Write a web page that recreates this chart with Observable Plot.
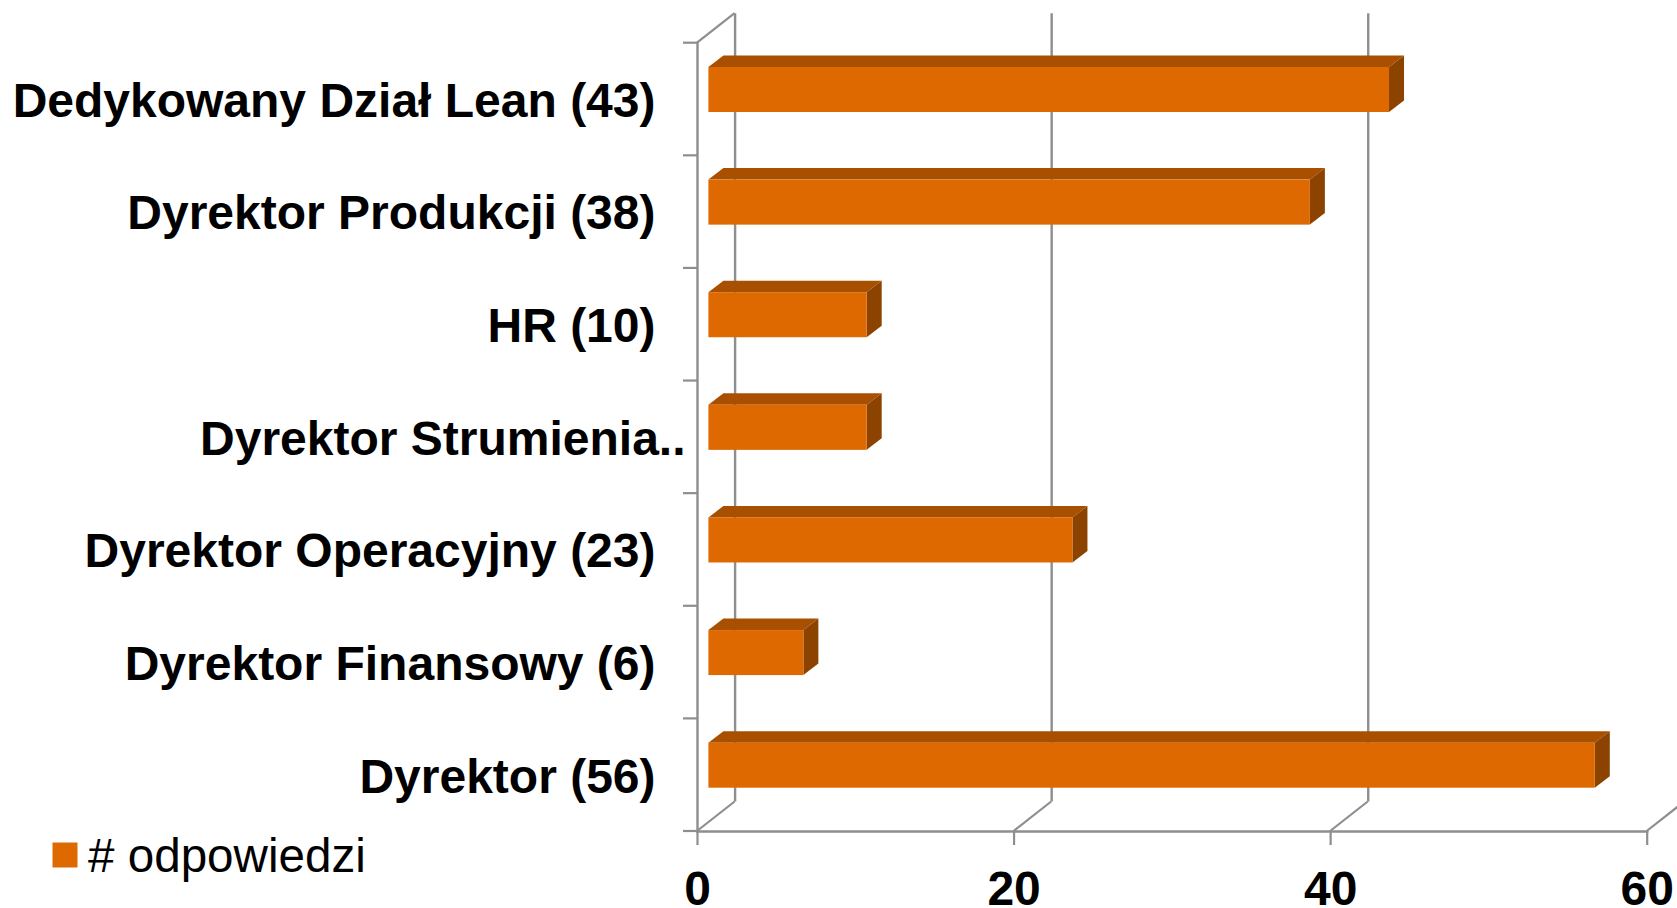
<!DOCTYPE html>
<html>
<head>
<meta charset="utf-8">
<script src="https://cdn.jsdelivr.net/npm/d3@7"></script>
<script src="https://cdn.jsdelivr.net/npm/@observablehq/plot@0.6"></script>
<style>
html,body{margin:0;padding:0;background:#fff;overflow:hidden}
svg{display:block;font-family:"Liberation Sans",Arial,sans-serif}
</style>
</head>
<body>
<div id="chart"></div>
<script>
const categories = ["Dedykowany Dział Lean (43)","Dyrektor Produkcji (38)","HR (10)","Dyrektor Strumienia..","Dyrektor Operacyjny (23)","Dyrektor Finansowy (6)","Dyrektor (56)"];
const values = [43,38,10,10,23,6,56];
const xTicks = [0,20,40,60];
const legendLabel = ["# odpowiedzi"];
const truncated = categories[3];

const rows = categories.map((c,i)=>({c,v:values[i]}));
const FRONT="#dd6900", TOP="#a85000", SIDE="#8c4300", AXIS="#8e8e8e";
const wall={dx:37.6,dy:-29.5}, bar={dx:11.4,depthX:15,depthY:11.5};
const S="http://www.w3.org/2000/svg";

function group(){return document.createElementNS(S,"g");}
function line(g,x1,y1,x2,y2){
  const l=document.createElementNS(S,"line");
  for(const [k,v] of Object.entries({x1,y1,x2,y2,stroke:AXIS,"stroke-width":2.2})) l.setAttribute(k,v);
  g.appendChild(l);
}
function poly(g,pts,fill){
  const p=document.createElementNS(S,"polygon");
  p.setAttribute("points",pts.map(q=>q.join(",")).join(" "));
  p.setAttribute("fill",fill);
  g.appendChild(p);
}

// Perspective struts of the floor and wall, placed through the x and y scales
const struts=(index,{x,y},values,{marginTop,height,marginBottom})=>{
  const g=group(), b=height-marginBottom;
  for(const t of xTicks) line(g,x(t),b,x(t)+wall.dx,b+wall.dy);
  line(g,x(0),marginTop,x(0)+wall.dx,marginTop+wall.dy);
  for(const c of categories) line(g,x(0)-14,y(c),x(0),y(c));
  line(g,x(0)-14,b,x(0),b);
  return g;
};
// Top and side faces of the 3D bars, from the same scales as the front face
const faces=(index,{x,y},values)=>{
  const g=group();
  for(const r of rows){
    const top=y(r.c)+24.3, bot=top+45, l=x(0)+bar.dx, e=x(r.v)+bar.dx, dx=bar.depthX, dy=bar.depthY;
    poly(g,[[l,top],[l+dx,top-dy],[e+dx,top-dy],[e,top]],TOP);
    poly(g,[[e,top],[e+dx,top-dy],[e+dx,bot-dy],[e,bot]],SIDE);
  }
  return g;
};

const font={fontFamily:"Liberation Sans",fontWeight:"bold",fontSize:48};
const chart=Plot.plot({
  width:1677,height:908,
  marginLeft:697,marginRight:30.3,marginTop:42.7,marginBottom:77,
  style:{background:"#fff",color:"#000",overflow:"hidden"},
  x:{domain:[0,60],label:null},
  y:{domain:categories,padding:0,round:false,label:null},
  marks:[
    Plot.ruleX(xTicks,{x:d=>d,dx:wall.dx,dy:wall.dy,stroke:AXIS,strokeWidth:2.4}),
    struts,
    Plot.frame({anchor:"left",stroke:AXIS,strokeWidth:2.4}),
    Plot.frame({anchor:"bottom",stroke:AXIS,strokeWidth:2.4}),
    Plot.axisX({ticks:xTicks,tickSize:14,tickPadding:25,label:null,stroke:AXIS,strokeWidth:2.2,color:"#000",...font,tickFormat:d=>String(d)}),
    Plot.axisY({tickSize:0,ticks:[],label:null}),
    faces,
    Plot.barX(rows,{x1:0,x2:"v",y:"c",dx:bar.dx,insetTop:24.3,insetBottom:43.3,fill:FRONT}),
    Plot.text(categories.filter(c=>c!==truncated),{y:d=>d,text:d=>d,frameAnchor:"left",textAnchor:"end",dx:-42,dy:2,fill:"#000",...font}),
    Plot.text([truncated],{y:d=>d,text:d=>d,frameAnchor:"left",textAnchor:"end",dx:-12,dy:2,fill:"#000",...font}),
    Plot.dot(legendLabel,{frameAnchor:"bottom-left",dx:-632.5,dy:23.5,symbol:"square",r:14.1,fill:FRONT,stroke:null}),
    Plot.text(legendLabel,{text:d=>d,frameAnchor:"bottom-left",textAnchor:"start",lineAnchor:"middle",dx:-609.5,dy:25.5,fill:"#000",fontFamily:"Liberation Sans",fontSize:47.6})
  ]
});
document.getElementById("chart").appendChild(chart);
</script>
</body>
</html>
